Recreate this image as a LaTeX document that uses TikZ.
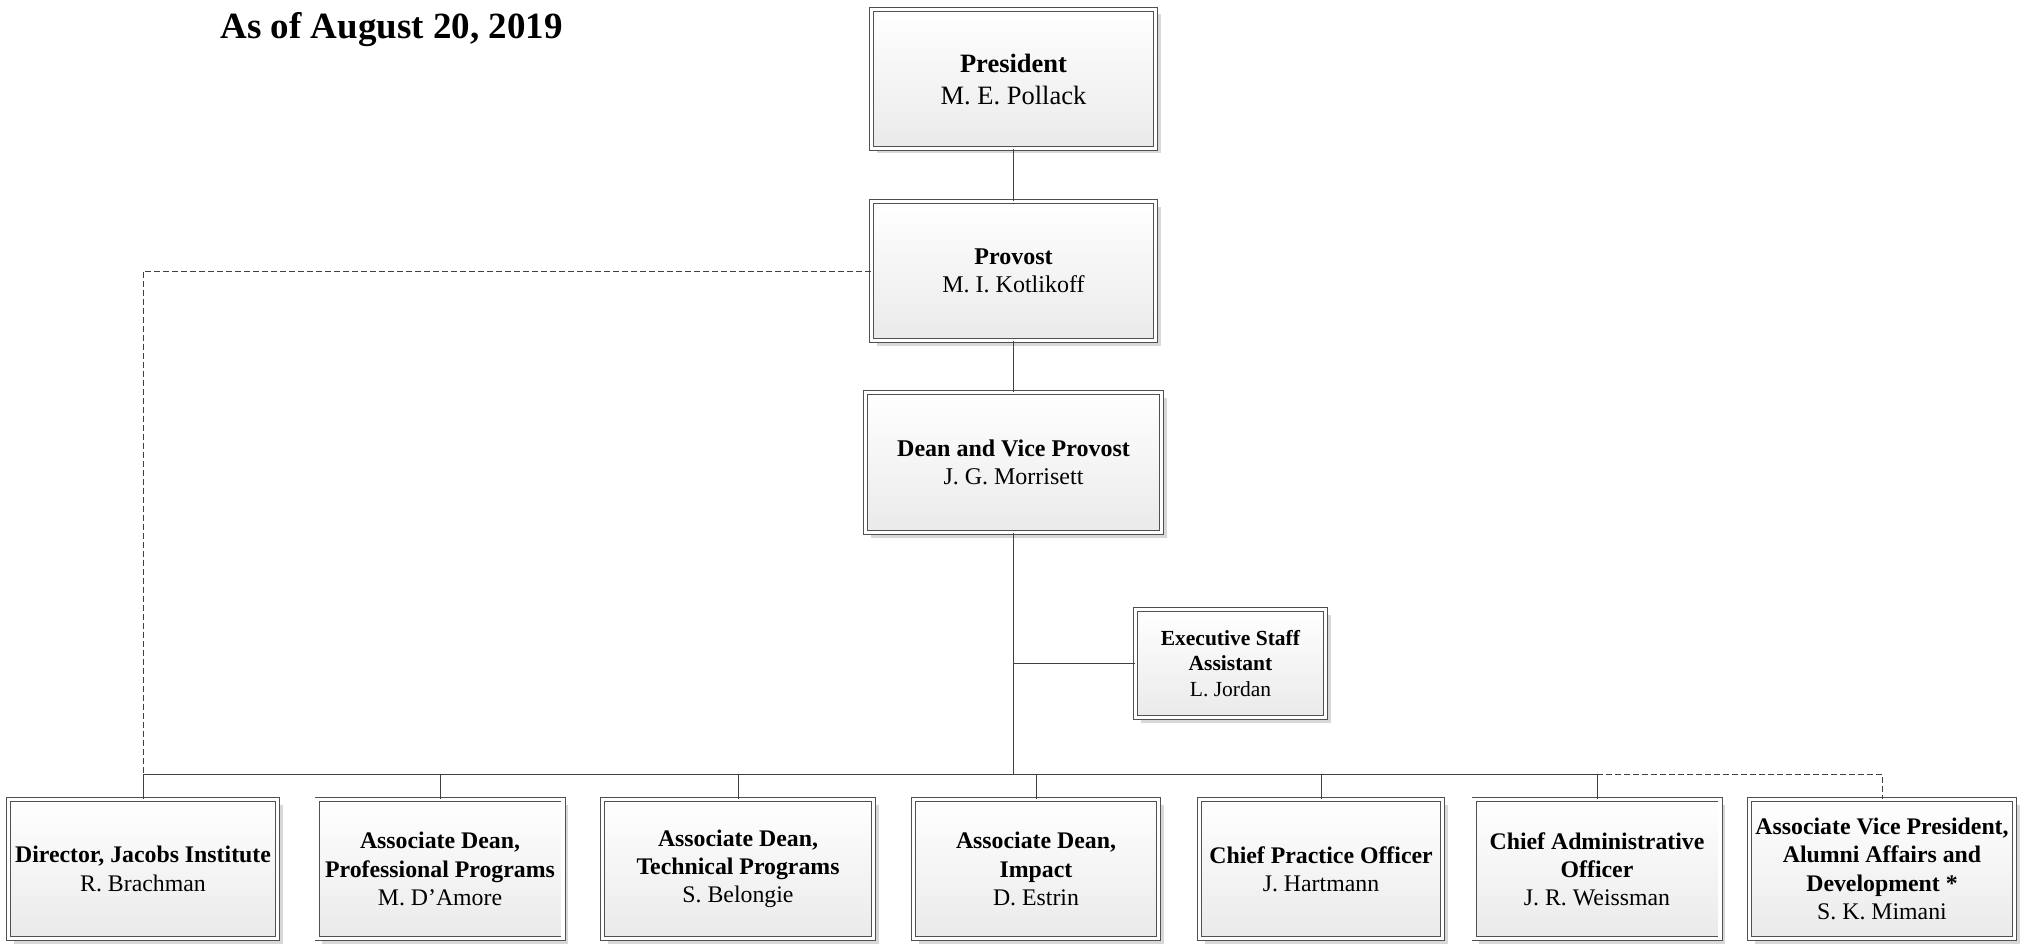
\documentclass[tikz,border=0pt]{standalone}
\usepackage{fontspec}
\setmainfont{Liberation Serif}
\usetikzlibrary{shadows}
\definecolor{boxline}{HTML}{505050}
\definecolor{conline}{HTML}{404040}
\definecolor{boxbot}{HTML}{EAEAEA}
\definecolor{shadowgray}{HTML}{D8D8D8}
\newcommand\fsPres{\fontsize{26.5}{32}\selectfont}
\newcommand\fsTop{\fontsize{24}{28.5}\selectfont}
\newcommand\fsBot{\fontsize{23.8}{28.2}\selectfont}
\newcommand\fsExec{\fontsize{21.5}{25.5}\selectfont}
\begin{document}
\begin{tikzpicture}[x=1pt,y=-1pt,
  orgbox/.style={draw=boxline, line width=0.9pt, double=white, double distance=3.2pt,
    top color=white, bottom color=boxbot, align=center, inner sep=2pt,
    drop shadow={shadow xshift=5pt, shadow yshift=-5pt, fill=shadowgray, opacity=1}},
  topbox/.style={orgbox, font=\fsTop},
  botbox/.style={orgbox, font=\fsBot, minimum height=139pt},
  conn/.style={draw=conline, line width=0.9pt},
  dconn/.style={conn, dash pattern=on 6pt off 3pt}]
\useasboundingbox (0,0) rectangle (2025,944);

\node[anchor=base west, font=\fontsize{37}{40}\selectfont\bfseries] (title) at (217,39) {As of August 20, 2019};

\node[orgbox, font=\fsPres, minimum width=284pt, minimum height=139pt] (pres) at (1013.5,79) {\textbf{President}\\M. E. Pollack};
\node[topbox, minimum width=284pt, minimum height=139pt] (prov) at (1013.5,271) {\textbf{Provost}\\M. I. Kotlikoff};
\node[topbox, minimum width=296pt, minimum height=140pt] (dean) at (1013.5,462.5) {\textbf{Dean and Vice Provost}\\J. G. Morrisett};
\node[orgbox, font=\fsExec, minimum width=190pt, minimum height=108pt] (exec) at (1230.5,663.5) {\textbf{Executive Staff}\\\textbf{Assistant}\\L. Jordan};

\node[botbox, minimum width=269pt] (b1) at (143,869) {\textbf{Director, Jacobs Institute}\\R. Brachman};
\node[botbox, minimum width=246pt] (b2) at (440,869) {\textbf{Associate Dean,}\\\textbf{Professional Programs}\\M. D'Amore};
\node[botbox, minimum width=271pt] (b3) at (738,869) {\textbf{Associate Dean,}\\\textbf{Technical Programs}\\S. Belongie};
\node[botbox, minimum width=245pt] (b4) at (1036,869) {\textbf{Associate Dean,}\\\textbf{Impact}\\D. Estrin};
\node[botbox, minimum width=243pt] (b5) at (1321,869) {\textbf{Chief Practice Officer}\\J. Hartmann};
\node[botbox, minimum width=246pt] (b6) at (1597,869) {\textbf{Chief Administrative}\\\textbf{Officer}\\J. R. Weissman};
\node[botbox, minimum width=265pt] (b7) at (1882,869) {\textbf{Associate Vice President,}\\\textbf{Alumni Affairs and}\\\textbf{Development *}\\S. K. Mimani};

\coordinate (j) at (1013.5,774);
\foreach \k in {1,...,7}{\coordinate (h\k) at (b\k.north |- j);}

\path[conn] (pres.south) -- (prov.north);
\path[conn] (prov.south) -- (dean.north);
\path[conn] (dean.south) -- (j);
\path[conn] (dean.south |- exec.west) -- (exec.west);
\path[conn] (h1) -- (h6);
\foreach \k in {1,...,6}{\path[conn] (h\k) -- (b\k.north);}
\path[dconn] (h6) -- (h7) -- (b7.north);
\path[dconn] (prov.west) -| (h1);
\end{tikzpicture}
\end{document}
